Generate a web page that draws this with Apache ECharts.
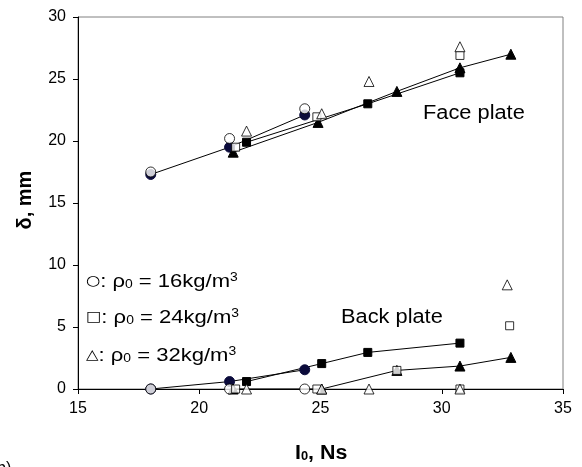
<!DOCTYPE html>
<html>
<head>
<meta charset="utf-8">
<script src="https://cdn.jsdelivr.net/npm/echarts@6/dist/echarts.min.js"></script>
<style>
  html, body { margin: 0; padding: 0; background: #fff; }
  #chart { width: 582px; height: 467px; }
</style>
</head>
<body>
<div id="chart"></div>
<script>
  // axis ticks
  const xTicks = [15, 20, 25, 30, 35]
  const yTicks = [0, 5, 10, 15, 20, 25, 30]

  // face plate - filled markers, joined by lines
  const faceCircle = [[18, 17.3], [21.25, 19.5], [24.35, 22.1]]
  const faceSquare = [[21.95, 19.9], [26.95, 23.0], [30.75, 25.5]]
  const faceTriangle = [[21.4, 19.1], [24.9, 21.5], [28.15, 24.0], [30.75, 25.9], [32.85, 27.0]]
  // face plate - open markers
  const faceCircleOpen = [[18, 17.5], [21.25, 20.2], [24.35, 22.6]]
  const faceSquareOpen = [[21.5, 19.5], [24.85, 21.95], [30.75, 26.9]]
  const faceTriangleOpen = [[21.95, 20.8], [25.05, 22.2], [27.0, 24.8], [30.75, 27.6]]

  // back plate - filled markers, joined by lines
  const backCircle = [[18, 0], [21.25, 0.6], [24.35, 1.55]]
  const backSquare = [[21.95, 0.6], [25.05, 2.05], [26.95, 2.95], [30.75, 3.7]]
  const backTriangle = [[21.4, 0], [25.05, 0], [28.15, 1.5], [30.75, 1.85], [32.85, 2.55]]
  // back plate - open markers
  const backCircleOpen = [[18, 0], [21.25, 0], [24.35, 0]]
  const backSquareOpen = [[21.5, 0], [24.85, 0], [28.15, 1.5], [30.75, 0], [32.8, 5.1]]
  const backTriangleOpen = [[21.95, 0], [25.05, 0], [27.0, 0], [30.75, 0], [32.7, 8.4]]

  const symSize = { circle: 10, rect: 8, triangle: 10 }

  function filled(data, sym, color) {
    return {
      type: 'line', data: data, symbol: sym, symbolSize: symSize[sym],
      showAllSymbol: true, animation: false,
      lineStyle: { color: '#000', width: 1 },
      itemStyle: { color: color || '#000', borderColor: color || '#000', borderWidth: 1 },
      z: 3
    }
  }
  function open(data, sym) {
    return {
      type: 'scatter', data: data, symbol: sym, symbolSize: symSize[sym], animation: false,
      itemStyle: { color: '#fff', borderColor: '#000', borderWidth: 1 },
      z: 4
    }
  }

  const chart = echarts.init(document.getElementById('chart'))
  const lab = { fontFamily: 'Liberation Sans, Arial', fontSize: 19, color: '#000' }
  const sub = { fontFamily: 'Liberation Sans, Arial', fontSize: 12, color: '#000', verticalAlign: 'bottom' }
  const sup = { fontFamily: 'Liberation Sans, Arial', fontSize: 12, color: '#000', verticalAlign: 'top' }
  const mk = { fontFamily: 'DejaVu Sans', fontSize: 14, color: '#000' }

  function legendLine(y, symbol, val) {
    return {
      type: 'text', x: 86, y: y, scaleX: 1.16,
      style: {
        text: '{m|' + symbol + '}{a|: ρ}{s|0}{a| = ' + val + 'kg/m}{p|3}',
        rich: { a: lab, s: sub, p: sup, m: mk }
      }
    }
  }

  chart.setOption({
    animation: false,
    grid: {
      left: 78, right: 19, top: 17, bottom: 78,
      show: true, borderColor: '#808080', borderWidth: 1
    },
    xAxis: {
      type: 'value', min: xTicks[0], max: xTicks[xTicks.length - 1], interval: 5,
      axisLine: { lineStyle: { color: '#000', width: 1 } },
      axisTick: { show: true, length: 5, lineStyle: { color: '#000' } },
      axisLabel: { fontFamily: 'Liberation Sans, Arial', fontSize: 16, color: '#000', margin: 12 },
      splitLine: { show: false }
    },
    yAxis: {
      type: 'value', min: yTicks[0], max: yTicks[yTicks.length - 1], interval: 5,
      axisLine: { show: true, lineStyle: { color: '#000', width: 1 } },
      axisTick: { show: true, length: 5, lineStyle: { color: '#000' } },
      axisLabel: { fontFamily: 'Liberation Sans, Arial', fontSize: 16, color: '#000', margin: 12 },
      splitLine: { show: false }
    },
    graphic: [
      legendLine(272, '○', '16'),
      legendLine(308, '□', '24'),
      legendLine(346, '△', '32'),
      { type: 'text', x: 423, y: 103, scaleX: 1.09,
        style: { text: 'Face plate', font: '20px Liberation Sans', fill: '#000' } },
      { type: 'text', x: 341, y: 307, scaleX: 1.09,
        style: { text: 'Back plate', font: '20px Liberation Sans', fill: '#000' } },
      { type: 'text', x: 25, y: 200, rotation: Math.PI / 2,
        style: { text: 'δ, mm', font: 'bold 20px Liberation Sans', fill: '#000', align: 'center', verticalAlign: 'middle' } },
      { type: 'text', x: 295, y: 443, scaleX: 1.07,
        style: {
          text: '{a|I}{s|0}{a|, Ns}',
          rich: {
            a: { fontFamily: 'Liberation Sans', fontWeight: 'bold', fontSize: 20, color: '#000' },
            s: { fontFamily: 'Liberation Sans', fontWeight: 'bold', fontSize: 12, color: '#000', verticalAlign: 'bottom' }
          }
        } },
      { type: 'text', x: -3, y: 461,
        style: { text: 'b)', font: '16px Liberation Sans', fill: '#000' } }
    ],
    series: [
      filled(faceCircle, 'circle', '#0b0b3b'),
      filled(faceSquare, 'rect'),
      filled(faceTriangle, 'triangle'),
      filled(backCircle, 'circle', '#0b0b3b'),
      filled(backSquare, 'rect'),
      filled(backTriangle, 'triangle'),
      open(faceCircleOpen, 'circle'),
      open(faceSquareOpen, 'rect'),
      open(faceTriangleOpen, 'triangle'),
      open(backCircleOpen, 'circle'),
      open(backSquareOpen, 'rect'),
      open(backTriangleOpen, 'triangle')
    ]
  })
</script>
</body>
</html>
